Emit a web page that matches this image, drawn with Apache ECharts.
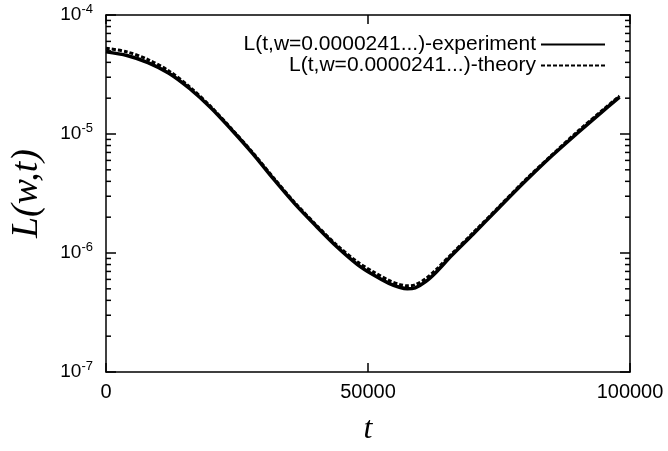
<!DOCTYPE html>
<html>
<head>
<meta charset="utf-8">
<script src="https://cdn.jsdelivr.net/npm/echarts@6/dist/echarts.min.js"></script>
<style>
  html, body { margin: 0; padding: 0; background: #fff; }
  #container { width: 668px; height: 451px; }
</style>
</head>
<body>
<div id="container"></div>
<script>
// time values (t)
var tValues = [0, 4000, 8000, 12000, 16000, 20000, 24000, 28000, 32000, 36000, 40000, 44000, 48000,
               51000, 54000, 56000, 57500, 59000, 61000, 63000, 66000, 70000, 75000, 80000, 85000, 90000, 95000, 98000];
// L(t) measured
var experiment = [4.90e-5, 4.57e-5, 3.98e-5, 3.24e-5, 2.40e-5, 1.66e-5, 1.08e-5, 6.84e-6, 4.17e-6, 2.60e-6, 1.70e-6, 1.135e-6, 8.0e-7,
                  6.55e-7, 5.55e-7, 5.15e-7, 5.0e-7, 5.1e-7, 5.75e-7, 6.9e-7, 9.55e-7, 1.43e-6, 2.4e-6, 4.0e-6, 6.5e-6, 1.02e-5, 1.58e-5, 2.04e-5];
// L(t) theory
var theory = [5.25e-5, 4.90e-5, 4.22e-5, 3.39e-5, 2.48e-5, 1.70e-5, 1.10e-5, 6.98e-6, 4.27e-6, 2.66e-6, 1.74e-6, 1.17e-6, 8.4e-7,
              6.95e-7, 5.88e-7, 5.45e-7, 5.3e-7, 5.4e-7, 6.08e-7, 7.25e-7, 9.85e-7, 1.47e-6, 2.45e-6, 4.1e-6, 6.6e-6, 1.05e-5, 1.62e-5, 2.09e-5];

var seriesNames = ['L(t,w=0.0000241...)-experiment', 'L(t,w=0.0000241...)-theory'];
var xTickStep = 50000;
var yDecades = [1e-7, 1e-6, 1e-5, 1e-4];
var yMinor = [];
for (var d = 0; d < yDecades.length - 1; d++) {
    for (var k = 2; k <= 9; k++) yMinor.push(k * yDecades[d]);
}

var sans = 'Liberation Sans';
var serif = 'Liberation Serif';

function pairs(ys) {
    return tValues.map(function (t, i) { return [t, ys[i]]; });
}

var axisLine = { show: true, onZero: false, lineStyle: { color: '#000', width: 1.5 } };
var tickStyle = { color: '#000', width: 1.5 };

function yAxisDef(pos) {
    return {
        type: 'log', logBase: 10, min: 1e-7, max: 1e-4, position: pos,
        axisLine: axisLine,
        axisTick: { show: true, inside: true, length: 10, lineStyle: tickStyle },
        axisLabel: { show: false },
        splitLine: { show: false }
    };
}

var myChart = echarts.init(document.getElementById('container'));

var yMain = yAxisDef('left');
yMain.axisLabel = {
    show: true, margin: 13, color: '#000',
    formatter: function (v) {
        var e = Math.round(Math.log10(v));
        return '{b|10}{s|' + e + '}';
    },
    rich: {
        b: { fontFamily: sans, fontSize: 19, color: '#000' },
        s: { fontFamily: sans, fontSize: 13, color: '#000', padding: [0, 0, 11, 0] }
    }
};
yMain.name = 'L(w,t)';
yMain.nameLocation = 'middle';
yMain.nameGap = 60;
yMain.nameTextStyle = { fontFamily: serif, fontStyle: 'italic', fontSize: 38, color: '#000' };

var legendBase = {
    right: 57, align: 'right', itemWidth: 64, itemHeight: 14,
    itemStyle: { opacity: 0 },
    textStyle: { fontFamily: sans, fontSize: 21, color: '#000' }
};

myChart.setOption({
    animation: false,
    backgroundColor: '#fff',
    grid: { left: 105, right: 38, top: 15, bottom: 74 },
    legend: [
        Object.assign({ data: [seriesNames[0]], top: 29 }, legendBase),
        Object.assign({ data: [seriesNames[1]], top: 50 }, legendBase)
    ],
    xAxis: [
        {
            type: 'value', min: 0, max: 100000, interval: xTickStep, position: 'bottom',
            axisLine: axisLine,
            axisTick: { inside: true, length: 9, lineStyle: tickStyle },
            axisLabel: { fontFamily: sans, fontSize: 20, color: '#000', margin: 10,
                         formatter: function (v) { return String(v); } },
            splitLine: { show: false },
            name: 't', nameLocation: 'middle', nameGap: 42,
            nameTextStyle: { fontFamily: serif, fontStyle: 'italic', fontSize: 32, color: '#000' }
        },
        {
            type: 'value', min: 0, max: 100000, interval: xTickStep, position: 'top',
            axisLine: axisLine,
            axisTick: { inside: true, length: 9, lineStyle: tickStyle },
            axisLabel: { show: false },
            splitLine: { show: false }
        }
    ],
    yAxis: [yMain, yAxisDef('right')],
    series: [
        {
            name: seriesNames[0], type: 'line', data: pairs(experiment),
            smooth: 0.3, symbol: 'none', xAxisIndex: 0, yAxisIndex: 0,
            itemStyle: { color: '#000' },
            lineStyle: { color: '#000', width: 3.5, type: 'solid' }
        },
        {
            name: seriesNames[1], type: 'line', data: pairs(theory),
            smooth: 0.3, symbol: 'none', xAxisIndex: 0, yAxisIndex: 0,
            itemStyle: { color: '#000' },
            lineStyle: { color: '#000', width: 3, type: [4, 2] }
        }
    ]
});

// minor log ticks, placed through the axis scale
var xl = myChart.convertToPixel({ xAxisIndex: 0 }, 0);
var xr = myChart.convertToPixel({ xAxisIndex: 0 }, 100000);
var ticks = [];
yMinor.forEach(function (v) {
    var y = myChart.convertToPixel({ yAxisIndex: 0 }, v);
    ticks.push({ type: 'line', shape: { x1: xl, y1: y, x2: xl + 5, y2: y }, style: { stroke: '#000', lineWidth: 1.5 } });
    ticks.push({ type: 'line', shape: { x1: xr - 5, y1: y, x2: xr, y2: y }, style: { stroke: '#000', lineWidth: 1.5 } });
});
myChart.setOption({ graphic: ticks });
</script>
</body>
</html>
